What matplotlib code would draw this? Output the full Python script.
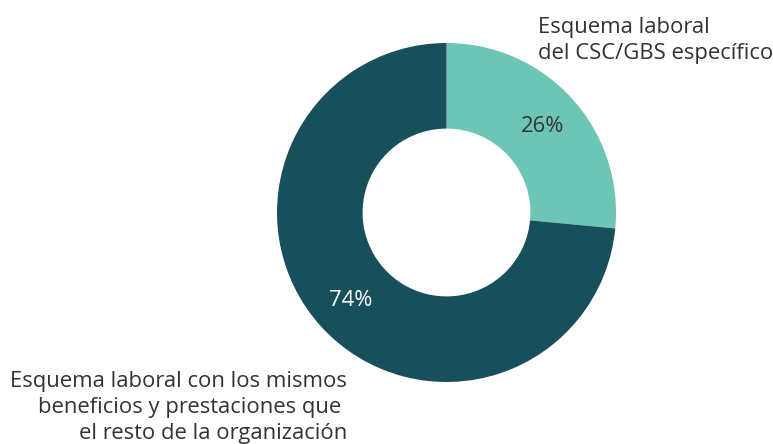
import matplotlib
matplotlib.use('Agg')
from matplotlib import pyplot as plt
from matplotlib import font_manager as fm
import numpy as np

# usar el archivo Regular de Open Sans (el variable sale condensado)
regular = [f.fname for f in fm.fontManager.ttflist if f.fname.endswith('OpenSans-Regular.ttf')]
if regular:
    fuente = dict(fontproperties=fm.FontProperties(fname=regular[0], size=15.8))
else:
    fuente = dict(family='DejaVu Sans', fontsize=15)

categorias = ['Esquema laboral\ndel CSC/GBS específico',
              'Esquema laboral con los mismos\nbeneficios y prestaciones que \nel resto de la organización']
valores = [26.5, 73.5]
etiquetas_pct = ['26%', '74%']
colores = ['#6cc5b5', '#174f5b']
color_pct = ['#333333', '#ffffff']

W, H = 773, 444
fig = plt.figure(figsize=(W / 100, H / 100), dpi=100)
ax = fig.add_axes([0, 0, 1, 1])

cx, cy, r = 446.5, H - 212.5, 169.5
ax.pie(valores, colors=colores, startangle=90, counterclock=False,
       center=(cx, cy), radius=r, frame=True,
       wedgeprops=dict(width=r * 0.505, linewidth=0))
ax.set_xlim(0, W)
ax.set_ylim(0, H)
ax.set_aspect('equal')
ax.axis('off')

ang = 90.0
for v, txt, c in zip(valores, etiquetas_pct, color_pct):
    mid = np.deg2rad(ang - v * 3.6 / 2)
    ang -= v * 3.6
    ax.text(cx + r * 0.765 * np.cos(mid), cy + r * 0.765 * np.sin(mid) - 1, txt,
            ha='center', va='center', color=c, **fuente)

# etiquetas externas (va='baseline' -> ultima linea en y)
ax.text(538, H - 59, categorias[0], ha='left', va='baseline',
        color='#333333', linespacing=1.3, **fuente)
ax.text(347, H - 439, categorias[1], ha='right', va='baseline',
        color='#333333', linespacing=1.3, multialignment='right', **fuente)

fig.savefig('out.png', dpi=100)
